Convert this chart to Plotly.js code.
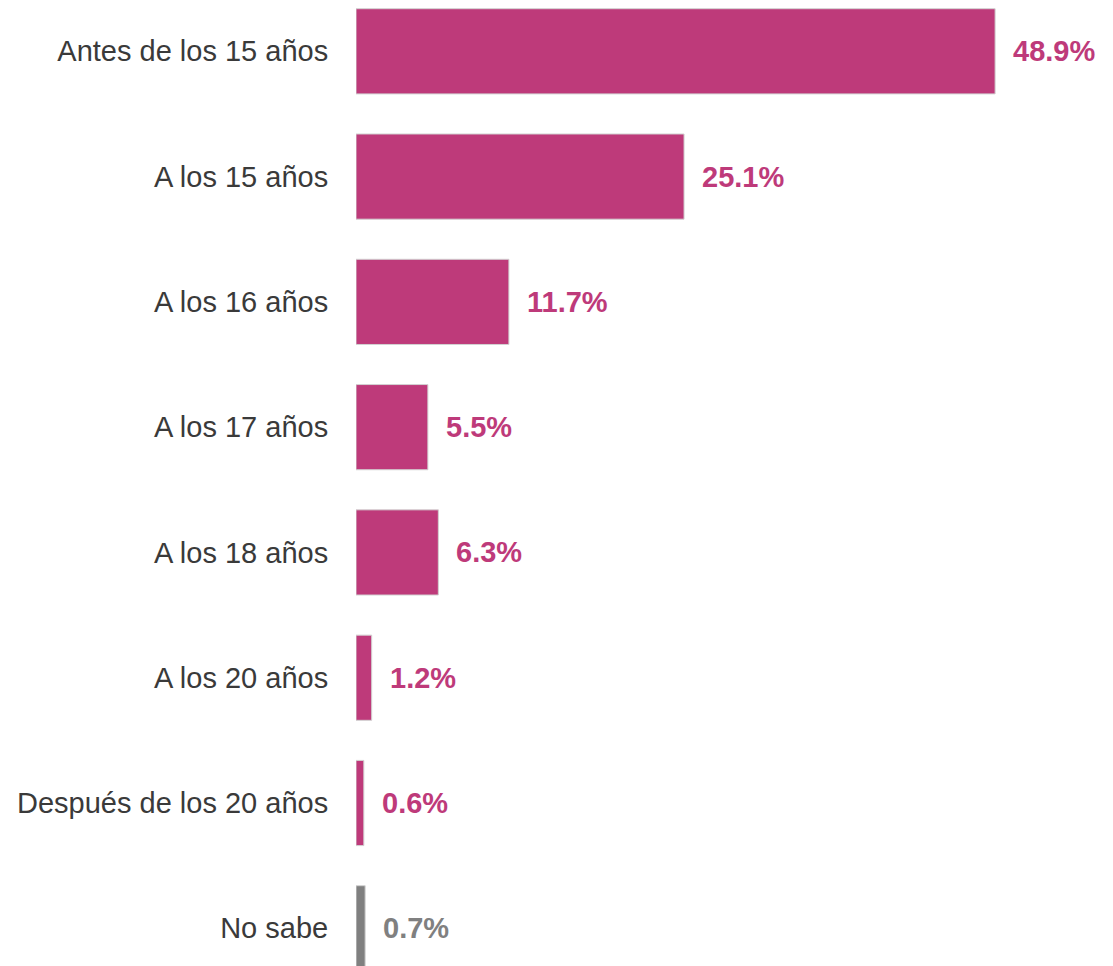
<!DOCTYPE html>
<html>
<head>
<meta charset="utf-8">
<script src="https://cdn.plot.ly/plotly-3.0.1.min.js"></script>
<style>html,body{margin:0;padding:0;background:#fff;}#chart{width:1113px;height:966px;}</style>
</head>
<body>
<div id="chart"></div>
<script>
const categories = ["Antes de los 15 años","A los 15 años","A los 16 años","A los 17 años","A los 18 años","A los 20 años","Después de los 20 años","No sabe"];
const values = [48.9, 25.1, 11.7, 5.5, 6.3, 1.2, 0.6, 0.7];
const barColors = ["#BE3A7A","#BE3A7A","#BE3A7A","#BE3A7A","#BE3A7A","#BE3A7A","#BE3A7A","#808080"];
const valueLabels = values.map(v => v.toFixed(1) + "%");

const FONT = "Liberation Sans, Arial, Helvetica, sans-serif";

const trace = {
  type: "bar",
  orientation: "h",
  y: categories,
  x: values,
  marker: {color: barColors, line: {color: "#d2d2d2", width: 1}},
  hoverinfo: "skip",
  cliponaxis: true
};

const annotations = categories.map((c, i) => ({
  x: values[i], y: c, xref: "x", yref: "y",
  text: "<b>" + valueLabels[i] + "</b>",
  showarrow: false, xanchor: "left", yanchor: "middle", xshift: 16,
  font: {family: FONT, size: 29, color: barColors[i]}
}));

const layout = {
  width: 1113, height: 966,
  margin: {l: 356, r: 0, t: 0, b: 0},
  paper_bgcolor: "#ffffff", plot_bgcolor: "rgba(0,0,0,0)",
  showlegend: false,
  bargap: 0.32,
  xaxis: {range: [0, 57.92], visible: false, fixedrange: true},
  yaxis: {
    type: "category", range: [7.301, -0.4095], autorange: false,
    showgrid: false, zeroline: false, showline: false,
    ticks: "outside", ticklen: 21, tickcolor: "rgba(0,0,0,0)",
    tickfont: {family: FONT, size: 29, color: "#3a3a3a"}
  },
  annotations: annotations
};

Plotly.newPlot("chart", [trace], layout, {displayModeBar: false, staticPlot: true});
</script>
</body>
</html>
